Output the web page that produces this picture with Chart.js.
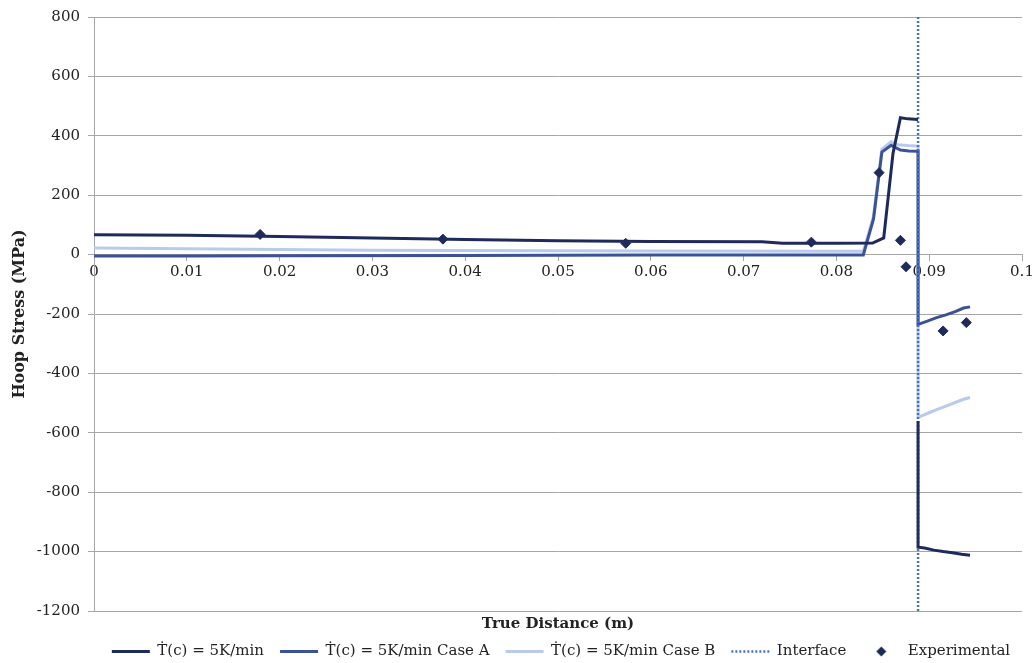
<!DOCTYPE html>
<html>
<head>
<meta charset="utf-8">
<script src="https://cdn.jsdelivr.net/npm/chart.js@4"></script>
<style>
  html, body { margin: 0; padding: 0; background: #fff; }
  #wrap { width: 1034px; height: 663px; }
</style>
</head>
<body>
<div id="wrap"><canvas id="chart"></canvas></div>
<script>
// data
const xTickLabels = ["0", "0.01", "0.02", "0.03", "0.04", "0.05", "0.06", "0.07", "0.08", "0.09", "0.1"];

// T(c) = 5K/min
const baseX = [0, 0.01, 0.02, 0.03, 0.04, 0.05, 0.06, 0.072, 0.0742, 0.08, 0.0839, 0.0851, 0.0861, 0.0869, 0.0877, 0.0888, 0.0888, 0.0888, 0.0888, 0.0895, 0.0905, 0.0915, 0.0925, 0.0935, 0.0944];
const baseY = [67, 65, 61, 56, 51, 47, 44, 43, 38, 38, 39, 56, 341, 461, 457, 455, null, -560, -985, -988, -995, -1000, -1004, -1009, -1012];

// Case A
const caseAX = [0, 0.01, 0.02, 0.04, 0.06, 0.08, 0.0829, 0.084, 0.0849, 0.0859, 0.0869, 0.0878, 0.0888, 0.0888, 0.0898, 0.0908, 0.0918, 0.0928, 0.0937, 0.0944];
const caseAY = [-5, -5, -4, -3, -1, -1, -1, 120, 345, 368, 352, 349, 348, -235, -224, -212, -203, -192, -180, -176];

// Case B
const caseBX = [0, 0.01, 0.02, 0.03, 0.04, 0.06, 0.08, 0.0829, 0.084, 0.0849, 0.0859, 0.0866, 0.0877, 0.0888, 0.0888, 0.0898, 0.0908, 0.0918, 0.0928, 0.0937, 0.0944];
const caseBY = [22, 20, 17, 15, 14, 12, 11, 11, 129, 355, 380, 370, 367, 365, -548, -535, -522, -510, -498, -487, -481];

// Interface
const interfaceX = [0.0888, 0.0888];
const interfaceY = [800, -1200];

// Experimental
const expX = [0.0179, 0.0376, 0.0573, 0.0773, 0.0846, 0.0869, 0.0875, 0.0915, 0.094];
const expY = [68, 52, 38, 42, 276, 48, -41, -257, -229];

function pts(xs, ys) {
    return xs.map((x, i) => ({ x: x, y: ys[i] }));
}

const NAVY = "#1f2a5c";
const MID = "#3b5296";
const LIGHT = "#b9cbea";
const DOTS = "#4a70c4";
const GRID = "#a6a6a6";
const TXT = "#222";
const FONT = "'DejaVu Serif', serif";

// small diamond for the legend (rectRot gets stretched by pointStyleWidth)
const diamond = document.createElement("canvas");
diamond.width = 11;
diamond.height = 11;
(function () {
    const c = diamond.getContext("2d");
    c.fillStyle = NAVY;
    c.beginPath();
    c.moveTo(5.5, 0.5);
    c.lineTo(10.5, 5.5);
    c.lineTo(5.5, 10.5);
    c.lineTo(0.5, 5.5);
    c.closePath();
    c.fill();
})();

// nudge the legend to where it sits in the reference
// (only move top, legend clips to its own box)
const legendShift = {
    id: "legendShift",
    afterLayout(chart) {
        const l = chart.legend;
        if (!l) return;
        l.left += 50;
        l.right += 50;
        l.top -= 9;
    }
};

const ctx = document.getElementById("chart");

new Chart(ctx, {
    type: "scatter",
    plugins: [legendShift],
    data: {
        datasets: [
            {
                label: "\u1E6A(c) = 5K/min",
                data: pts(baseX, baseY),
                xAxisID: "x",
                showLine: true,
                borderColor: NAVY,
                backgroundColor: NAVY,
                borderWidth: 3,
                pointRadius: 0,
                pointStyle: "line",
                order: 1
            },
            {
                label: "\u1E6A(c) = 5K/min Case A",
                data: pts(caseAX, caseAY),
                xAxisID: "x",
                showLine: true,
                borderColor: MID,
                backgroundColor: MID,
                borderWidth: 3,
                pointRadius: 0,
                pointStyle: "line",
                order: 3
            },
            {
                label: "\u1E6A(c) = 5K/min Case B",
                data: pts(caseBX, caseBY),
                xAxisID: "x",
                showLine: true,
                borderColor: LIGHT,
                backgroundColor: LIGHT,
                borderWidth: 3,
                pointRadius: 0,
                pointStyle: "line",
                order: 4
            },
            {
                label: "Interface",
                data: pts(interfaceX, interfaceY),
                xAxisID: "x",
                showLine: true,
                borderColor: DOTS,
                backgroundColor: DOTS,
                borderWidth: 2.5,
                borderDash: [2, 2],
                pointRadius: 0,
                pointStyle: "line",
                order: 2
            },
            {
                label: "Experimental",
                data: pts(expX, expY),
                xAxisID: "x",
                showLine: false,
                borderColor: NAVY,
                backgroundColor: NAVY,
                borderWidth: 1,
                pointRadius: 5,
                pointStyle: "rectRot",
                order: 0
            }
        ]
    },
    options: {
        responsive: true,
        maintainAspectRatio: false,
        animation: false,
        layout: { padding: { left: 0, right: 12, top: 15, bottom: 0 } },
        plugins: {
            tooltip: { enabled: false },
            legend: {
                position: "bottom",
                maxHeight: 26,
                labels: {
                    usePointStyle: true,
                    pointStyleWidth: 38,
                    boxHeight: 7,
                    padding: 16,
                    color: TXT,
                    font: { family: FONT, size: 15 },
                    sort: (a, b) => a.datasetIndex - b.datasetIndex,
                    generateLabels: function (chart) {
                        const items = Chart.defaults.plugins.legend.labels.generateLabels(chart);
                        items.forEach(it => {
                            const ds = chart.data.datasets[it.datasetIndex];
                            if (ds.pointStyle === "line") {
                                it.strokeStyle = ds.borderColor;
                                it.lineWidth = ds.borderWidth;
                                it.lineDash = ds.borderDash || [];
                            } else {
                                it.pointStyle = diamond;
                            }
                        });
                        return items;
                    }
                }
            }
        },
        scales: {
            x: {
                type: "linear",
                min: 0,
                max: 0.1,
                position: { y: 0 },
                ticks: {
                    stepSize: 0.01,
                    autoSkip: false,
                    maxRotation: 0,
                    padding: 3,
                    color: TXT,
                    font: { family: FONT, size: 15 },
                    callback: (v, i) => xTickLabels[i]
                },
                grid: { drawOnChartArea: false, tickLength: 6, color: GRID },
                border: { color: GRID },
                afterFit: function (scale) {
                    scale.paddingLeft = 0;
                    scale.paddingRight = 0;
                }
            },
            xb: {
                type: "linear",
                position: "bottom",
                min: 0,
                max: 0.1,
                ticks: { display: false },
                grid: { display: false, drawTicks: false },
                border: { display: false },
                title: {
                    display: true,
                    text: "True Distance (m)",
                    color: TXT,
                    font: { family: FONT, size: 15, weight: "bold" },
                    padding: { top: 4, bottom: 4 }
                },
                afterFit: function (scale) {
                    scale.height = 26;
                    scale.paddingLeft = 0;
                    scale.paddingRight = 0;
                }
            },
            y: {
                min: -1200,
                max: 800,
                ticks: {
                    stepSize: 200,
                    padding: 8,
                    color: TXT,
                    font: { family: FONT, size: 15 },
                    callback: v => String(v)
                },
                grid: { color: GRID, tickLength: 6 },
                border: { color: GRID },
                title: {
                    display: true,
                    text: "Hoop Stress (MPa)",
                    color: TXT,
                    font: { family: FONT, size: 16, weight: "bold" },
                    padding: { top: 10, bottom: 0 }
                },
                afterFit: function (scale) {
                    scale.width = 94;
                }
            }
        }
    }
});
</script>
</body>
</html>
